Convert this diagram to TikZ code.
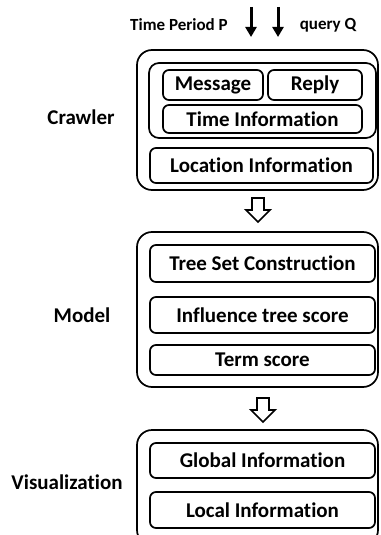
\documentclass[tikz,border=0pt]{standalone}
\usepackage{fontspec}
\setmainfont{Carlito}[Ligatures=NoCommon]
\usetikzlibrary{arrows.meta}

\tikzset{
  stagebox/.style={draw, line width=1.7pt, rounded corners=15pt, minimum width=241pt, inner sep=0pt},
  groupbox/.style={draw, line width=1.7pt, rounded corners=10pt, inner sep=0pt},
  itembox/.style={draw, line width=1.7pt, rounded corners=6pt, inner sep=0pt, font=\fontsize{21}{25}\selectfont\bfseries},
  stagename/.style={font=\fontsize{21}{25}\selectfont\bfseries},
  inputname/.style={font=\fontsize{17}{20}\selectfont\bfseries},
  inarrow/.style={line width=3pt, -{Triangle[width=11pt,length=10pt]}},
  blockarrow/.style={line width=1.7pt, line join=miter}
}

\newcommand\hollowdown[1]{\draw[blockarrow] (#1) ++(-6,-12) -- ++(12,0) -- ++(0,12) -- ++(6,0) -- ++(-12,12) -- ++(-12,-12) -- ++(6,0) -- cycle;}

\begin{document}
\begin{tikzpicture}[x=1pt,y=-1pt]
\useasboundingbox (0,0) rectangle (380,535);

\node[inputname] (period) at (179,25) {Time Period P};
\node[inputname] (query) at (328,25) {query Q};
\coordinate (p1) at (251,7);
\coordinate (p2) at (251,37);
\coordinate (q1) at (278,7);
\coordinate (q2) at (278,37);
\draw[inarrow] (p1) -- (p2);
\draw[inarrow] (q1) -- (q2);

\node[stagebox, minimum height=140pt] (crawler) at (257.5,120) {};
\node[groupbox, minimum width=227pt, minimum height=75pt] (posts) at (262.5,100.5) {};
\node[itembox, minimum width=100pt, minimum height=30pt] (message) at (213,85) {Message};
\node[itembox, minimum width=94pt, minimum height=30pt] (reply) at (315,85) {Reply};
\node[itembox, minimum width=199pt, minimum height=28pt] (time) at (262.5,119) {Time Information};
\node[itembox, minimum width=223pt, minimum height=35pt] (location) at (261.5,165.5) {Location Information};
\node[stagename] (crawlername) at (81,117) {Crawler};

\coordinate (down1) at (258,210);
\hollowdown{down1}

\node[stagebox, minimum height=155pt] (model) at (257.5,309.5) {};
\node[itembox, minimum width=225pt, minimum height=37pt] (treeset) at (262.5,263.5) {Tree Set Construction};
\node[itembox, minimum width=225pt, minimum height=36pt] (influence) at (262.5,315) {Influence tree score};
\node[itembox, minimum width=225pt, minimum height=30pt] (term) at (262.5,360) {Term score};
\node[stagename] (modelname) at (82,315) {Model};

\coordinate (down2) at (263,410);
\hollowdown{down2}

\node[stagebox, minimum height=115pt] (vis) at (257.5,487.5) {};
\node[itembox, minimum width=225pt, minimum height=35pt] (global) at (262.5,460.5) {Global Information};
\node[itembox, minimum width=225pt, minimum height=36pt] (local) at (262.5,510) {Local Information};
\node[stagename] (visname) at (67,482) {Visualization};

\end{tikzpicture}
\end{document}
